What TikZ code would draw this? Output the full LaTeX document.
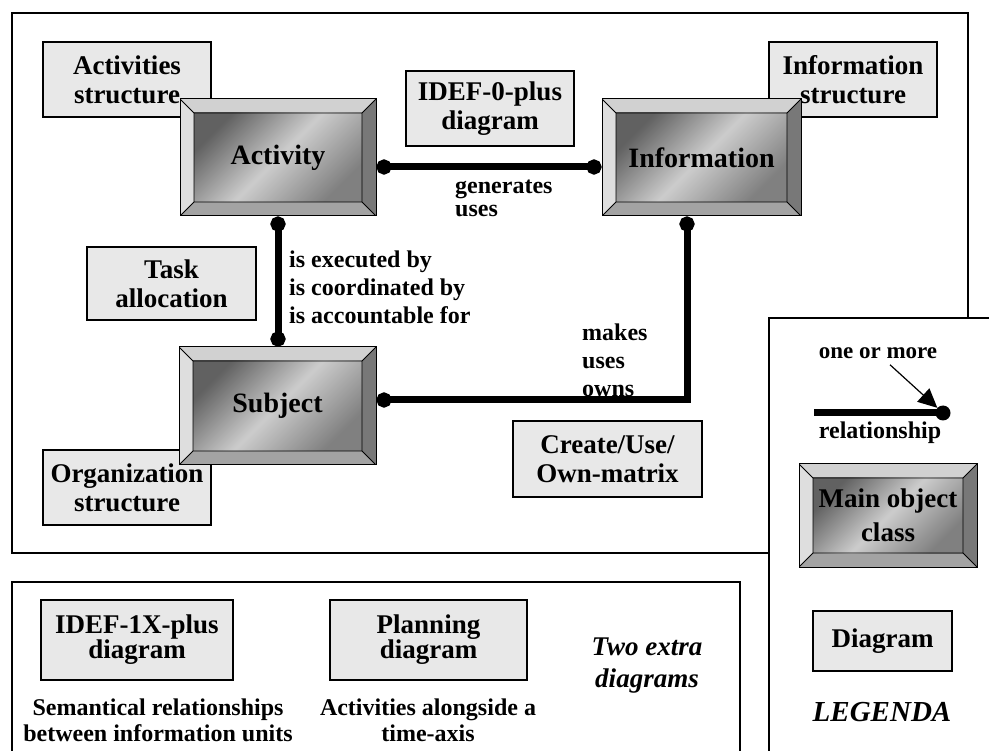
\documentclass[tikz,border=0pt]{standalone}
\usepackage{fontspec}
\setmainfont{Liberation Serif}
\usetikzlibrary{arrows.meta}

\begin{document}
\begin{tikzpicture}[x=1pt, y=-1pt,
diagram/.style={draw, line width=1.2pt, fill=black!9, align=center, inner sep=0pt, font=\fontsize{27}{29}\selectfont\bfseries},
twoline/.style={diagram, execute at begin node={\rule{0pt}{24pt}}},
mainclass/.style={draw, line width=1pt, align=center, inner sep=0pt, font=\fontsize{28}{32}\selectfont\bfseries, path picture={
\path (path picture bounding box.north west) coordinate (o1) ++(14pt,-14pt) coordinate (i1)
(path picture bounding box.south east) coordinate (o3) ++(-14pt,14pt) coordinate (i3);
\fill[black!18] (o1) -- (o1 -| o3) -- (i1 -| i3) -- (i1) -- cycle;
\fill[black!13] (o1) -- (i1) -- (i1 |- i3) -- (o1 |- o3) -- cycle;
\fill[black!53] (o1 -| o3) -- (o3) -- (i3) -- (i1 -| i3) -- cycle;
\fill[black!36] (o1 |- o3) -- (i1 |- i3) -- (i3) -- (o3) -- cycle;
\shade[top color=black!62, bottom color=black!50, middle color=black!20, shading angle=45] (i1) rectangle (i3);
\draw[line width=0.8pt] (o1) -- (i1) (o1 -| o3) -- (i1 -| i3) (o3) -- (i3) (o1 |- o3) -- (i1 |- i3) (i1) rectangle (i3);
}},
rel/.style={line width=7pt, {Circle[length=15pt]}-{Circle[length=15pt]}},
rellabel/.style={anchor=west, align=left, inner sep=0pt, font=\fontsize{24}{28}\selectfont\bfseries},
note/.style={align=center, inner sep=0pt, font=\fontsize{24}{26}\selectfont\bfseries}]
\useasboundingbox (0,0) rectangle (989,751);
\draw[line width=2.5pt] (12,13) rectangle (968,553);
\fill[white] (769,318) rectangle (989,751);
\draw[line width=1.5pt] (769,751) |- (989,318);
\draw[line width=2.5pt] (12,751) |- (740,582) -- (740,751);

\node[twoline, minimum width=168pt, minimum height=75pt] (actstruct) at (127,79.5) {Activities\\structure};
\node[twoline, minimum width=168pt, minimum height=75pt] (idefzero) at (490,108.5) {IDEF-0-plus\\diagram};
\node[twoline, minimum width=168pt, minimum height=75pt] (infstruct) at (853,79.5) {Information\\structure};
\node[twoline, minimum width=169pt, minimum height=73pt] (task) at (171.5,283.5) {Task\\allocation};
\node[twoline, minimum width=168pt, minimum height=75pt] (orgstruct) at (127,487.5) {Organization\\structure};
\node[twoline, minimum width=189pt, minimum height=76pt] (cuomatrix) at (607.5,459) {Create/Use/\\Own-matrix};

\node[mainclass, minimum width=196pt, minimum height=117pt] (activity) at (278,157.5) {Activity};
\node[mainclass, minimum width=199pt, minimum height=117pt] (information) at (701.5,157.5) {Information};
\node[mainclass, minimum width=197pt, minimum height=118pt] (subject) at (277.5,406) {Subject};

\draw[rel] ([yshift=-9.5pt]activity.east) -- ([yshift=-9.5pt]information.west);
\draw[rel] (activity.south) -- (activity.south |- subject.north);
\draw[rel] ([yshift=6pt]subject.east) -| ([xshift=-14.5pt]information.south);

\node[rellabel, font=\fontsize{24}{23}\selectfont\bfseries] (generates) at (455,198.5) {generates\\uses};
\node[rellabel] (executed) at (289,287) {is executed by\\is coordinated by\\is accountable for};
\node[rellabel] (makes) at (582,360) {makes\\uses\\owns};

\node[note, font=\fontsize{23}{26}\selectfont\bfseries] (onemore) at (878,353) {one or more};
\coordinate (legstart) at (814,413);
\node[circle, fill, inner sep=0pt, minimum size=15pt] (legdot) at (943,413) {};
\draw[line width=7pt] (legstart) -- (legdot.center);
\draw[line width=1.2pt, -{Triangle[length=19pt, width=18pt]}] ([xshift=12pt, yshift=-6pt]onemore.south) -- (legdot);
\node[note] (relship) at (880,433) {relationship};
\node[mainclass, minimum width=178pt, minimum height=103pt, font=\fontsize{27}{34}\selectfont\bfseries, execute at begin node={\rule{0pt}{29pt}}] (mainobj) at (888,515.5) {Main object\\class};
\node[diagram, minimum width=139pt, minimum height=60pt] (diaglegend) at (882.5,641) {Diagram};
\node[note, font=\fontsize{29}{32}\selectfont\bfseries\itshape] (legenda) at (882,712) {LEGENDA};

\node[twoline, minimum width=192pt, minimum height=80pt, font=\fontsize{27}{25}\selectfont\bfseries] (idefonex) at (137,640) {IDEF-1X-plus\\diagram};
\node[twoline, minimum width=197pt, minimum height=80pt, font=\fontsize{27}{25}\selectfont\bfseries] (planning) at (428.5,640) {Planning\\diagram};
\node[note] (semantic) at (158,720) {Semantical relationships\\between information units};
\node[note] (timeaxis) at (428,720) {Activities alongside a\\time-axis};
\node[note, font=\fontsize{27}{32}\selectfont\bfseries\itshape] (extra) at (647,666) {Two extra\\diagrams};
\end{tikzpicture}
\end{document}
